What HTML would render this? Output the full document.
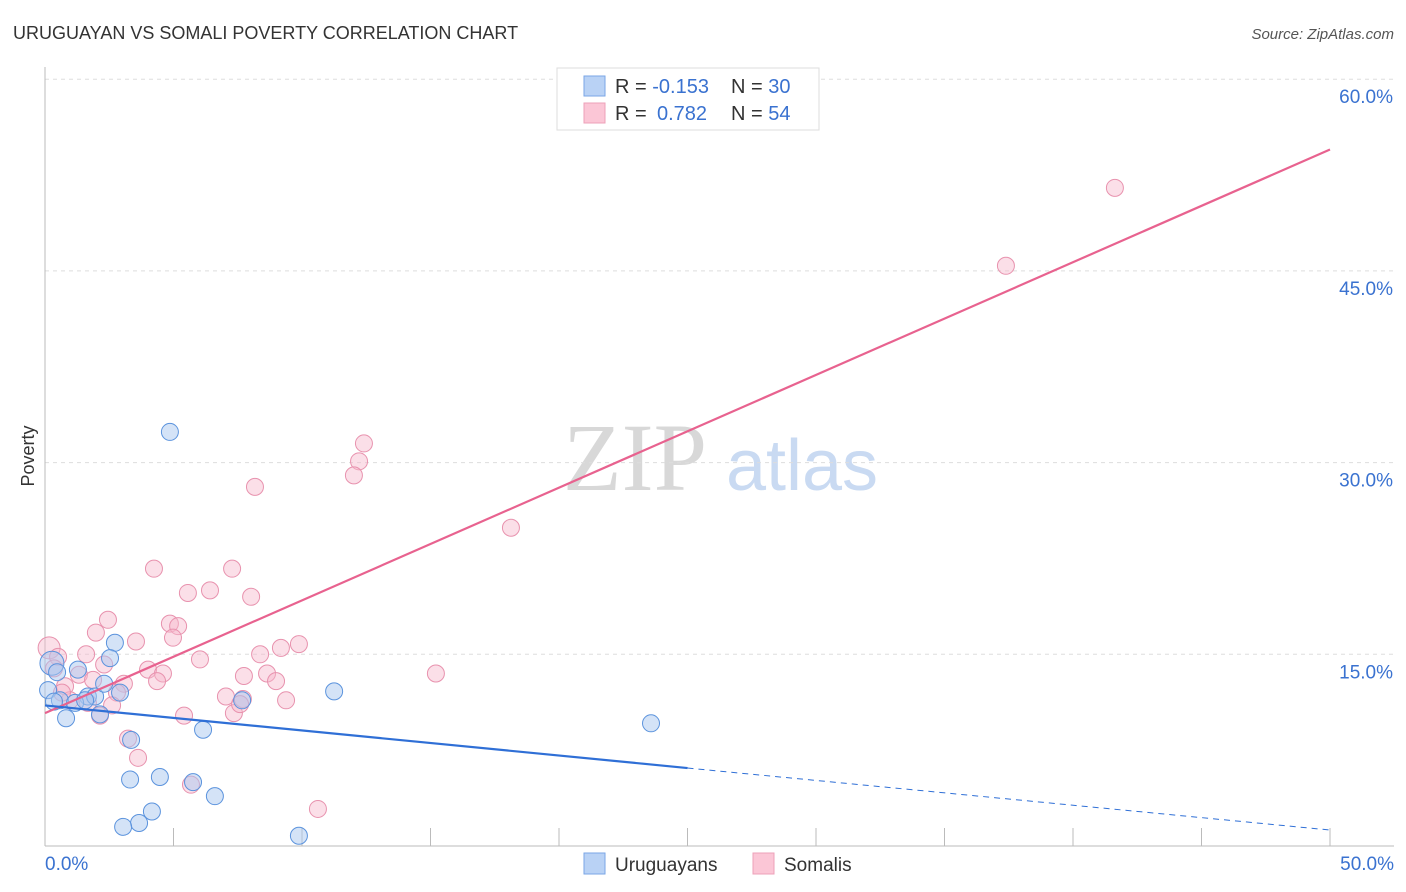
<!DOCTYPE html>
<html><head><meta charset="utf-8"><style>
body{margin:0;background:#fff;font-family:"Liberation Sans",sans-serif;}
#wrap{position:relative;width:1406px;height:892px;overflow:hidden}
</style></head><body>
<div id="wrap">
<svg id="chart" width="1406" height="892">
  <text x="13" y="39" font-size="18" fill="#333">URUGUAYAN VS SOMALI POVERTY CORRELATION CHART</text>
  <text x="1394" y="39" font-size="15" fill="#555" text-anchor="end" font-style="italic">Source: ZipAtlas.com</text>
  <text x="635" y="490" font-size="96" fill="#d8d8d8" text-anchor="middle" font-family="Liberation Serif,serif">ZIP</text>
  <text x="802" y="490" font-size="72" fill="#c9daf2" text-anchor="middle">atlas</text>
  <text transform="translate(34,456) rotate(-90)" font-size="18" fill="#333" text-anchor="middle">Poverty</text>
  <g id="grid"></g><g id="axes"></g><g id="pts"></g><g id="lines"></g>
  <g>
    <rect x="557" y="68" width="262" height="62" fill="#fff" stroke="#ddd"/>
    <rect x="584" y="76" width="21" height="20" fill="#b9d2f5" stroke="#7aa6e6"/>
    <rect x="584" y="103" width="21" height="20" fill="#fbc6d6" stroke="#eea0b8"/>
    <text x="615" y="93" font-size="20" fill="#333">R = <tspan fill="#3a72d0">-0.153</tspan><tspan x="731">N = </tspan><tspan fill="#3a72d0">30</tspan></text>
    <text x="615" y="120" font-size="20" fill="#333">R = <tspan fill="#3a72d0" x="657">0.782</tspan><tspan x="731">N = </tspan><tspan fill="#3a72d0">54</tspan></text>
  </g>
  <g>
    <rect x="584" y="853" width="21" height="21" fill="#b9d2f5" stroke="#7aa6e6"/>
    <text x="615" y="871" font-size="19" fill="#333">Uruguayans</text>
    <rect x="753" y="853" width="21" height="21" fill="#fbc6d6" stroke="#eea0b8"/>
    <text x="784" y="871" font-size="19" fill="#333">Somalis</text>
  </g>
</svg>
</div>
<script>
const yTicks=[15,30,45,60];
const yTickLabels=["15.0%","30.0%","45.0%","60.0%"];
const xTickLabels=["0.0%","50.0%"];
const blueX=[4.86,2.72,2.53,1.28,0.27,0.12,0.58,0.82,1.67,1.95,2.14,2.30,2.92,3.35,3.31,4.47,5.76,6.61,4.16,3.66,3.04,9.88,6.15,7.67,11.25,23.58,0.35,1.17,1.56,0.47];
const blueY=[32.4,15.9,14.7,13.8,14.3,12.2,11.4,10.0,11.7,11.7,10.3,12.7,12.0,8.3,5.2,5.4,5.0,3.9,2.7,1.8,1.5,0.8,9.1,11.4,12.1,9.6,11.3,11.2,11.4,13.6];
const pinkX=[41.63,37.39,12.41,12.22,12.02,8.17,18.13,4.24,7.28,5.56,6.42,8.02,2.45,4.86,5.18,1.98,3.54,4.98,9.88,9.18,0.16,0.51,1.60,6.03,8.37,2.30,4.01,4.59,7.74,8.64,15.21,4.36,8.99,0.78,3.07,1.32,1.87,2.80,7.04,7.70,9.38,5.41,7.35,2.14,3.23,3.62,5.68,10.62,0.97,0.66,1.67,0.35,2.61,7.59];
const pinkY=[51.5,45.4,31.5,30.1,29.0,28.1,24.9,21.7,21.7,19.8,20.0,19.5,17.7,17.4,17.2,16.7,16.0,16.3,15.8,15.5,15.5,14.8,15.0,14.6,15.0,14.2,13.8,13.5,13.3,13.5,13.5,12.9,12.9,12.5,12.7,13.4,13.0,12.0,11.7,11.5,11.4,10.2,10.4,10.2,8.4,6.9,4.8,2.9,11.4,12.0,11.2,13.9,11.0,11.1];
const pinkLineX=[0,50], pinkLineY=[10.4,54.5];
const blueLineX=[0,25,50], blueLineY=[11.0,6.1,1.25];
const X0=45,X1=1330,YB=846,PPY=191.7/15;
const sx=v=>X0+(v/50)*(X1-X0), sy=v=>YB-v*PPY;
const NS="http://www.w3.org/2000/svg";
function mk(tag,attrs,parent){const e=document.createElementNS(NS,tag);for(const k in attrs)e.setAttribute(k,attrs[k]);parent.appendChild(e);return e;}
const grid=document.getElementById('grid'),axes=document.getElementById('axes'),pts=document.getElementById('pts'),lines=document.getElementById('lines');
yTicks.forEach((t,i)=>{
  const l=mk('line',{x1:X0,x2:1394,y1:sy(t),y2:sy(t),stroke:'#ddd','stroke-dasharray':'4,4'},grid);
  
  
  const tx=mk('text',{x:1393,y:sy(t)+24,'font-size':19,fill:'#3a72d0','text-anchor':'end'},grid);
  tx.textContent=yTickLabels[i];
  
  
});
const ya=mk('line',{x1:X0,x2:X0,y1:67,y2:846,stroke:'#bbb'},axes);


const xa=mk('line',{x1:X0,x2:1394,y1:846,y2:846,stroke:'#bbb'},axes);


for(let i=1;i<=10;i++){const t=mk('line',{x1:sx(i*5),x2:sx(i*5),y1:828,y2:846,stroke:'#bbb'},axes);
  
  }
[[0,'start',45],[50,'end',1394]].forEach(([v,a,x],i)=>{const t=mk('text',{x:x,y:870,'font-size':19,fill:'#3a72d0','text-anchor':a},axes);t.textContent=xTickLabels[i];
  
  });
pinkX.forEach((v,i)=>{const c=mk('circle',{cx:sx(v),cy:sy(pinkY[i]),r:i==20?11:8.5,fill:'#f7b8cc','fill-opacity':0.45,stroke:'#e892ae','stroke-width':1},pts);
  
  });
blueX.forEach((v,i)=>{const c=mk('circle',{cx:sx(v),cy:sy(blueY[i]),r:i==4?12:8.5,fill:'#a9c8f0','fill-opacity':0.5,stroke:'#5b93dd','stroke-width':1},pts);
  
  });
const pl=mk('line',{x1:sx(pinkLineX[0]),y1:sy(pinkLineY[0]),x2:sx(pinkLineX[1]),y2:sy(pinkLineY[1]),stroke:'#e8628f','stroke-width':2.2},lines);


const bl=mk('line',{x1:sx(blueLineX[0]),y1:sy(blueLineY[0]),x2:sx(blueLineX[1]),y2:sy(blueLineY[1]),stroke:'#2f6fd6','stroke-width':2.2},lines);


const bd=mk('line',{x1:sx(blueLineX[1]),y1:sy(blueLineY[1]),x2:sx(blueLineX[2]),y2:sy(blueLineY[2]),stroke:'#2f6fd6','stroke-width':1,'stroke-dasharray':'6,5'},lines);


</script>
</body></html>
